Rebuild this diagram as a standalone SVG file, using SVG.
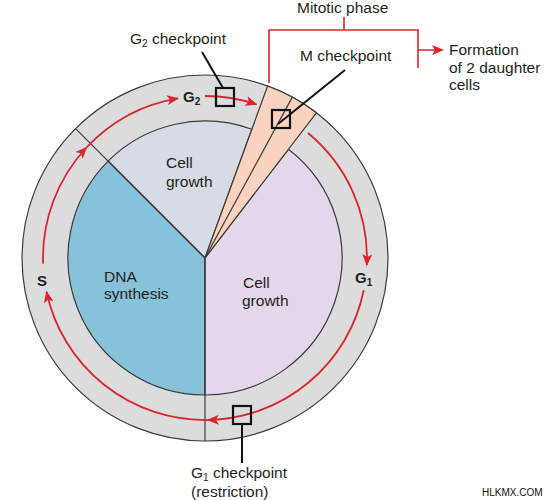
<svg xmlns="http://www.w3.org/2000/svg" width="550" height="500" viewBox="0 0 550 500">
<defs>
<style>
.t{font-family:"Liberation Sans",Arial,sans-serif;font-size:15.5px;fill:#231f20}
.b{font-family:"Liberation Sans",Arial,sans-serif;font-size:15px;font-weight:bold;fill:#231f20}
.sec{stroke:#3a3a3a;stroke-width:1.2}
.red{fill:none;stroke:#d9262e;stroke-width:1.8}
.brk{fill:none;stroke:#d9262e;stroke-width:1.6}
.box{fill:none;stroke:#111;stroke-width:2.2}
.lead{stroke:#111;stroke-width:2}
</style>
<marker id="ah" viewBox="0 0 12 10" refX="11" refY="5" markerWidth="12" markerHeight="10" markerUnits="userSpaceOnUse" orient="auto">
<path d="M0,0 L12,5 L0,10 L3,5 Z" fill="#d9262e"/>
</marker>
</defs>
<rect width="550" height="500" fill="#fff"/>
<g id="cycle">
<circle cx="205" cy="258" r="183" fill="#dcdcdd" stroke="#3a3a3a" stroke-width="1.2"/>
<path class="sec" d="M205,258 L108.1,161.1 A137,137 0 0 1 251.9,129.3 Z" fill="#d6dbe5"/>
<path class="sec" d="M205,258 L205,395 A137,137 0 0 1 108.1,161.1 Z" fill="#88c1da"/>
<path class="sec" d="M205,258 L288.4,149.3 A137,137 0 0 1 205,395 Z" fill="#e3d8eb"/>
<line class="sec" x1="205" y1="258" x2="75.6" y2="128.6"/>
<line class="sec" x1="205" y1="258" x2="205" y2="441"/>
<path id="mwedge" class="sec" d="M205,258 L267.6,86 A183,183 0 0 1 316.4,112.8 Z" fill="#f9d3bf"/>
<line class="sec" x1="205" y1="258" x2="292.3" y2="97.1"/>
</g>
<g id="labels-in">
<text class="t" x="166" y="168">Cell</text>
<text class="t" x="166" y="187">growth</text>
<text class="t" x="104" y="282">DNA</text>
<text class="t" x="104" y="299">synthesis</text>
<text class="t" x="243" y="288">Cell</text>
<text class="t" x="242" y="306">growth</text>
<text class="b" x="183" y="102">G<tspan font-size="10" dy="3">2</tspan></text>
<text class="b" x="355" y="283">G<tspan font-size="10" dy="3">1</tspan></text>
<text class="b" x="37" y="286">S</text>
</g>
<g id="connectors">
<path class="red" d="M43.1,263.7 A162,162 0 0 1 86.5,147.5" marker-end="url(#ah)"/>
<path class="red" d="M86.5,147.5 A162,162 0 0 1 178,98.3" marker-end="url(#ah)"/>
<path class="red" d="M205,96 A162,162 0 0 1 256.4,104.4" marker-end="url(#ah)"/>
<path class="red" d="M308,133 A162,162 0 0 1 366.8,265.1" marker-end="url(#ah)"/>
<path class="red" d="M363.7,290.3 A162,162 0 0 1 207.8,420" marker-end="url(#ah)"/>
<path class="red" d="M207.8,420 A162,162 0 0 1 46.5,291.7" marker-end="url(#ah)"/>
<path class="brk" d="M344,17 V30 M269,83 V30 H418 V68 M418,50 H442" />
<path d="M432,45 L444,50 L432,55 L435,50 Z" fill="#d9262e"/>
<line class="lead" x1="202" y1="52" x2="223" y2="88"/>
<line class="lead" x1="345" y1="70" x2="278" y2="124"/>
<line class="lead" x1="242" y1="424" x2="242" y2="463"/>
</g>
<g id="g2check">
<rect class="box" x="216" y="88" width="18" height="18"/>
<text class="t" x="130" y="43.5">G<tspan font-size="10" dy="3">2</tspan><tspan dy="-3"> checkpoint</tspan></text>
</g>
<g id="mcheck">
<rect class="box" x="272" y="110" width="18" height="18"/>
<text class="t" x="300" y="61">M checkpoint</text>
</g>
<g id="mitotic">
<text class="t" x="297" y="13">Mitotic phase</text>
</g>
<g id="formation">
<text class="t" x="449" y="55">Formation</text>
<text class="t" x="449" y="72.5">of 2 daughter</text>
<text class="t" x="449" y="90">cells</text>
</g>
<g id="g1check">
<rect class="box" x="233" y="406" width="18" height="18"/>
<text class="t" x="191" y="478">G<tspan font-size="10" dy="2.5">1</tspan><tspan dy="-2.5"> checkpoint</tspan></text>
<text class="t" x="191" y="497">(restriction)</text>
</g>
<text x="482" y="496" font-family="'Liberation Sans',Arial,sans-serif" font-size="10" fill="#111">HLKMX.COM</text>
</svg>
